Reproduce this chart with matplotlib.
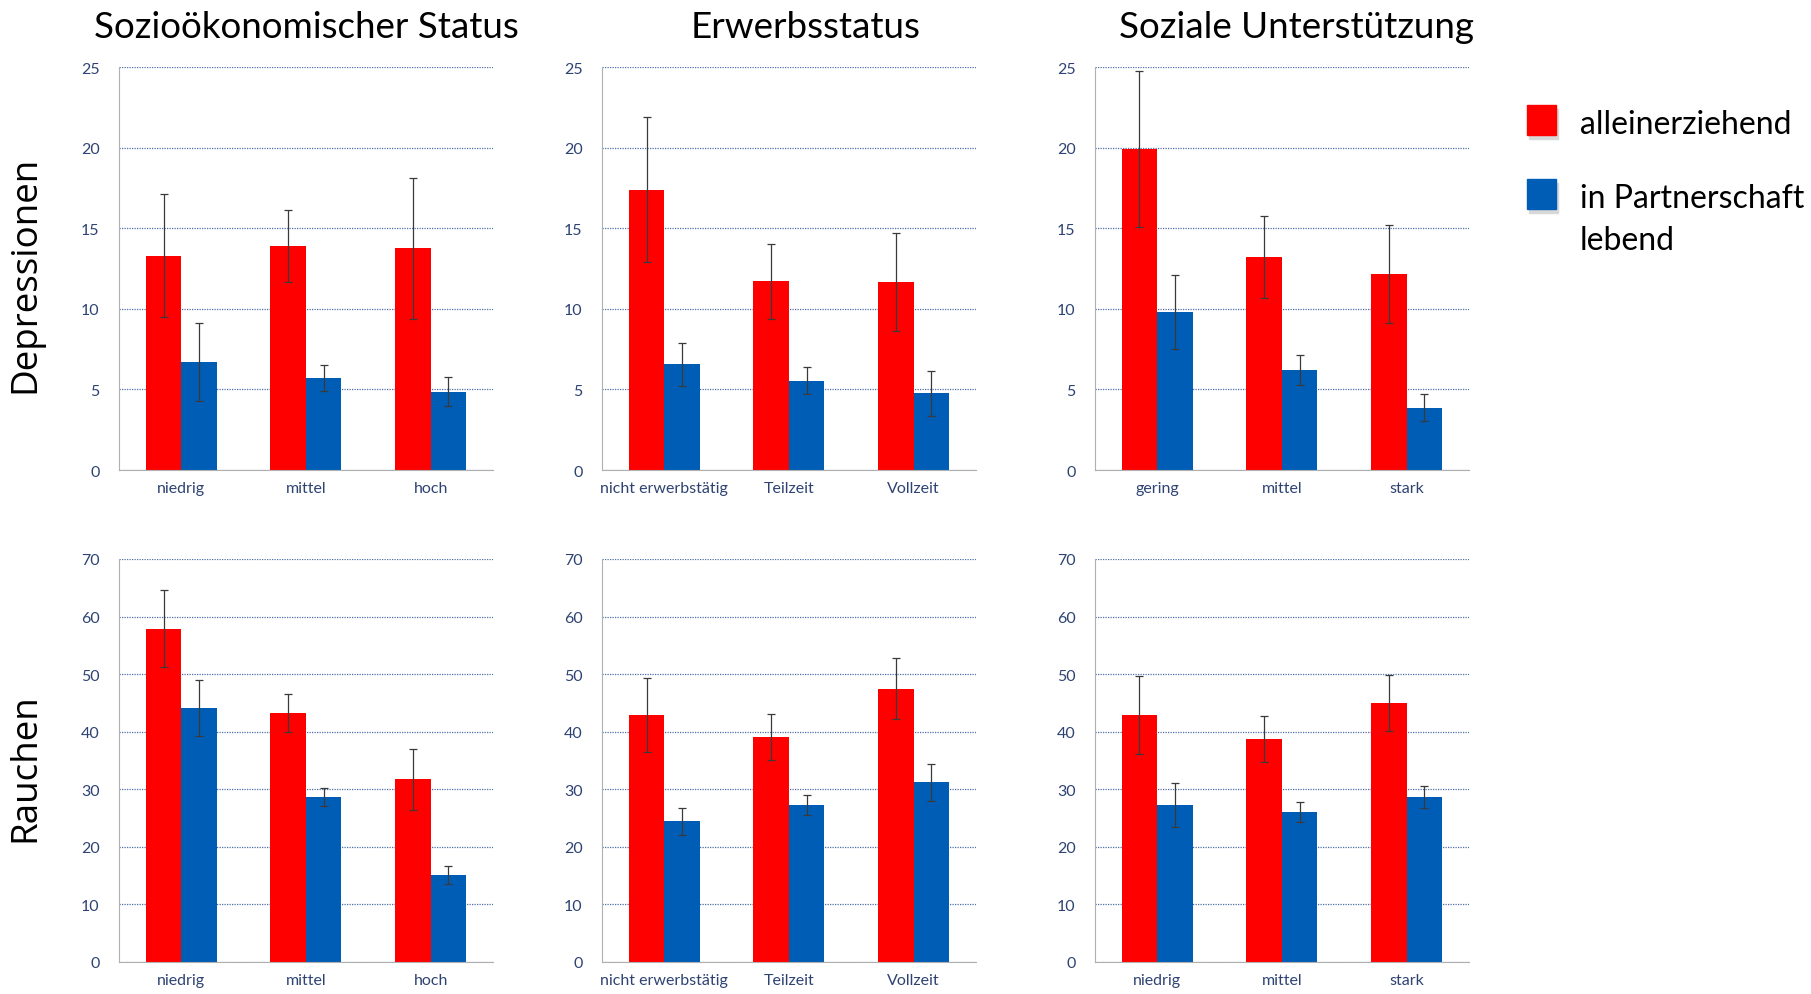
import matplotlib
matplotlib.use('Agg')
import matplotlib.pyplot as plt
from matplotlib.patches import Rectangle
import numpy as np

# Kategorien
cats_ses = ['niedrig', 'mittel', 'hoch']
cats_erw = ['nicht erwerbstätig', 'Teilzeit', 'Vollzeit']
cats_soz_top = ['gering', 'mittel', 'stark']
cats_soz_bottom = ['niedrig', 'mittel', 'stark']

col_titles = ['Sozioökonomischer Status', 'Erwerbsstatus', 'Soziale Unterstützung']
row_labels = ['Depressionen', 'Rauchen']
legend_labels = ['alleinerziehend', 'in Partnerschaft\nlebend']

# Depressionen
dep_ses_allein = [13.3, 13.9, 13.75]
dep_ses_allein_err = [3.8, 2.25, 4.35]
dep_ses_partner = [6.7, 5.7, 4.85]
dep_ses_partner_err = [2.4, 0.8, 0.9]

dep_erw_allein = [17.4, 11.7, 11.65]
dep_erw_allein_err = [4.5, 2.35, 3.05]
dep_erw_partner = [6.55, 5.55, 4.75]
dep_erw_partner_err = [1.35, 0.85, 1.42]

dep_soz_allein = [19.9, 13.2, 12.15]
dep_soz_allein_err = [4.85, 2.55, 3.05]
dep_soz_partner = [9.8, 6.2, 3.87]
dep_soz_partner_err = [2.3, 0.95, 0.85]

# Rauchen
rau_ses_allein = [57.9, 43.3, 31.7]
rau_ses_allein_err = [6.7, 3.3, 5.3]
rau_ses_partner = [44.1, 28.65, 15.1]
rau_ses_partner_err = [4.9, 1.5, 1.5]

rau_erw_allein = [42.85, 39.05, 47.5]
rau_erw_allein_err = [6.45, 3.95, 5.3]
rau_erw_partner = [24.4, 27.3, 31.2]
rau_erw_partner_err = [2.4, 1.75, 3.25]

rau_soz_allein = [42.9, 38.8, 45.0]
rau_soz_allein_err = [6.8, 4.0, 4.8]
rau_soz_partner = [27.3, 26.1, 28.65]
rau_soz_partner_err = [3.8, 1.75, 1.95]

RED = '#FF0000'
BLUE = '#005DB5'
TICK_COL = '#2E4372'

fig = plt.figure(figsize=(18.11, 9.95), dpi=100)

lefts = [0.0657, 0.3324, 0.6046]
bottoms = [0.5266, 0.0322]
w, h = 0.2065, 0.405

panels = [
    [(cats_ses, dep_ses_allein, dep_ses_allein_err, dep_ses_partner, dep_ses_partner_err),
     (cats_erw, dep_erw_allein, dep_erw_allein_err, dep_erw_partner, dep_erw_partner_err),
     (cats_soz_top, dep_soz_allein, dep_soz_allein_err, dep_soz_partner, dep_soz_partner_err)],
    [(cats_ses, rau_ses_allein, rau_ses_allein_err, rau_ses_partner, rau_ses_partner_err),
     (cats_erw, rau_erw_allein, rau_erw_allein_err, rau_erw_partner, rau_erw_partner_err),
     (cats_soz_bottom, rau_soz_allein, rau_soz_allein_err, rau_soz_partner, rau_soz_partner_err)],
]
ymax = [25, 70]
ystep = [5, 10]

bw = 0.285
for r in range(2):
    for c in range(3):
        cats, a, ae, p, pe = panels[r][c]
        ax = fig.add_axes([lefts[c], bottoms[r], w, h])
        x = np.arange(len(cats))
        ax.bar(x - bw / 2, a, bw, color=RED, zorder=2)
        ax.bar(x + bw / 2, p, bw, color=BLUE, zorder=2)
        ax.errorbar(x - bw / 2, a, yerr=ae, fmt='none', ecolor='#3a3a3a',
                    elinewidth=0.9, capsize=3, capthick=0.9, zorder=3)
        ax.errorbar(x + bw / 2, p, yerr=pe, fmt='none', ecolor='#3a3a3a',
                    elinewidth=0.9, capsize=3, capthick=0.9, zorder=3)
        ax.set_xlim(-0.5, 2.5)
        ax.set_ylim(0, ymax[r])
        ax.set_yticks(np.arange(0, ymax[r] + 1, ystep[r]))
        ax.set_xticks(x)
        ax.set_xticklabels(cats)
        ax.yaxis.grid(True, color='#4F6FA8', linestyle=(0, (1, 1)), linewidth=0.9)
        ax.set_axisbelow(True)
        for s in ['top', 'right']:
            ax.spines[s].set_visible(False)
        ax.spines['left'].set_color('#B0B0B0')
        ax.spines['bottom'].set_color('#B0B0B0')
        ax.tick_params(length=0, labelsize=11.5, labelcolor=TICK_COL, pad=8)
        ax.tick_params(axis='y', pad=14)
        for lab in ax.get_xticklabels() + ax.get_yticklabels():
            lab.set_family('Lato')

# Spaltentitel
title_x = [0.169, 0.445, 0.716]
for tx, t in zip(title_x, col_titles):
    fig.text(tx, 0.972, t, ha='center', va='center', fontsize=26.5, family='Lato')

# Zeilenbeschriftung
fig.text(0.014, 0.724, row_labels[0], rotation=90, ha='center', va='center',
         fontsize=26.5, family='Open Sans')
fig.text(0.014, 0.229, row_labels[1], rotation=90, ha='center', va='center',
         fontsize=26.5, family='Open Sans')

# Legende
sq_w, sq_h = 29 / 1811, 30 / 995
for i, (col, lab) in enumerate(zip([RED, BLUE], legend_labels)):
    yb = 1 - (136 + i * 74) / 995
    fig.patches.append(Rectangle((1529 / 1811, yb - 0.004), sq_w, sq_h, color='#D8D8D8',
                                 transform=fig.transFigure, zorder=1))
    fig.patches.append(Rectangle((1527 / 1811, yb), sq_w, sq_h, color=col,
                                 transform=fig.transFigure, zorder=2))
    fig.text(1580 / 1811, yb + sq_h - 0.004, lab, ha='left', va='top', fontsize=23,
             family='Lato', linespacing=1.52)

plt.savefig('out.png', dpi=100)
